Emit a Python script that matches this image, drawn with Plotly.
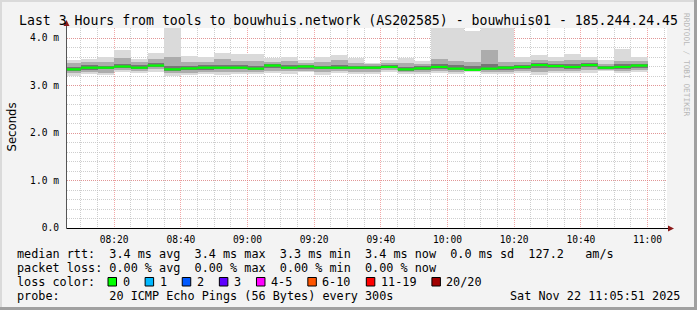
import plotly.graph_objects as go
import pandas as pd

# ---------------- data ----------------
# end of each 5-minute step (300 s), 08:10 .. 11:00
step_end = pd.date_range("2025-11-22 08:10:00", "2025-11-22 11:00:00", freq="5min")

median_ms = [3.34, 3.375, 3.375, 3.40, 3.375, 3.42, 3.34, 3.36, 3.375, 3.375,
             3.375, 3.355, 3.42, 3.375, 3.40, 3.375, 3.375, 3.375, 3.375, 3.39,
             3.34, 3.36, 3.39, 3.355, 3.33, 3.355, 3.375, 3.39, 3.43, 3.41,
             3.39, 3.43, 3.375, 3.39, 3.42]
ping_min = [3.20, 3.24, 3.22, 3.28, 3.27, 3.29, 3.21, 3.22, 3.24, 3.22,
            3.24, 3.24, 3.26, 3.25, 3.28, 3.22, 3.26, 3.24, 3.24, 3.29,
            3.24, 3.24, 3.26, 3.24, 3.28, 3.24, 3.24, 3.26, 3.22, 3.26,
            3.26, 3.27, 3.31, 3.27, 3.28]
ping_p10 = [3.27, 3.29, 3.27, 3.33, 3.31, 3.34, 3.26, 3.27, 3.29, 3.28,
            3.29, 3.28, 3.31, 3.30, 3.31, 3.28, 3.30, 3.29, 3.29, 3.32,
            3.28, 3.29, 3.30, 3.28, 3.30, 3.28, 3.28, 3.30, 3.29, 3.31,
            3.31, 3.32, 3.33, 3.31, 3.32]
ping_p30 = [3.31, 3.33, 3.34, 3.37, 3.35, 3.38, 3.30, 3.32, 3.33, 3.34,
            3.34, 3.32, 3.36, 3.34, 3.35, 3.34, 3.34, 3.34, 3.34, 3.36,
            3.31, 3.33, 3.35, 3.32, 3.32, 3.33, 3.33, 3.35, 3.37, 3.37,
            3.35, 3.38, 3.35, 3.35, 3.37]
ping_p70 = [3.40, 3.43, 3.42, 3.45, 3.43, 3.47, 3.42, 3.42, 3.43, 3.44,
            3.43, 3.42, 3.45, 3.44, 3.43, 3.42, 3.44, 3.42, 3.41, 3.43,
            3.40, 3.41, 3.45, 3.43, 3.42, 3.45, 3.42, 3.44, 3.47, 3.45,
            3.46, 3.47, 3.41, 3.45, 3.46]
ping_p90 = [3.47, 3.50, 3.50, 3.58, 3.50, 3.55, 3.60, 3.50, 3.50, 3.55,
            3.52, 3.52, 3.50, 3.52, 3.48, 3.50, 3.53, 3.48, 3.45, 3.48,
            3.47, 3.46, 3.55, 3.52, 3.50, 3.75, 3.50, 3.50, 3.53, 3.52,
            3.54, 3.53, 3.46, 3.52, 3.51]
ping_max = [3.54, 3.56, 3.59, 3.75, 3.56, 3.68, 4.25, 3.62, 3.60, 3.69,
            3.66, 3.66, 3.57, 3.60, 3.54, 3.59, 3.65, 3.57, 3.48, 3.54,
            3.57, 3.52, 4.30, 4.30, 4.15, 4.30, 4.30, 3.60, 3.64, 3.59,
            3.67, 3.61, 3.54, 3.77, 3.59]
loss_count = [0, 0, 0, 0, 0, 0, 0, 0, 0, 0, 0, 0, 0, 0, 0, 0, 0, 0, 0, 0,
              0, 0, 0, 0, 0, 0, 0, 0, 0, 0, 0, 0, 0, 0, 0]

y_tick_vals = [0, 1, 2, 3, 4]
y_tick_text = ["0.0", "1.0 m", "2.0 m", "3.0 m", "4.0 m"]

loss_labels = ["0", "1", "2", "3", "4-5", "6-10", "11-19", "20/20"]
loss_colors = ["#00ff00", "#00b8ff", "#0059ff", "#5e00ff", "#ff00fe",
               "#ff5500", "#ff0000", "#a10000"]

title_text = "Last 3 Hours from tools to bouwhuis.network (AS202585) - bouwhuis01 - 185.244.24.45"
line_rtt = "median rtt:  3.4 ms avg  3.4 ms max  3.3 ms min  3.4 ms now  0.0 ms sd  127.2   am/s"
line_loss = "packet loss: 0.00 % avg  0.00 % max  0.00 % min  0.00 % now"
line_probe = "probe:       20 ICMP Echo Pings (56 Bytes) every 300s"
stamp = "Sat Nov 22 11:05:51 2025"

x_start = "2025-11-22 08:05:51"
x_end = "2025-11-22 11:05:51"
y_top = 4.2105

# ---------------- geometry helpers ----------------
W, H = 697, 310
L, R, T, B = 67, 667, 28, 228


def pxx(x):
    return (x - L) / (R - L)


def pxy(y):
    return (B - y) / (B - T)


MONO = "DejaVu Sans Mono"
step = pd.Timedelta(seconds=300)
centers = [t - step / 2 for t in step_end]
starts = [t - step for t in step_end]

fig = go.Figure()

bands = [(ping_min, ping_max, "#dadada"),
         (ping_p10, ping_p90, "#acacac"),
         (ping_p30, ping_p70, "#767676")]
for lo, hi, col in bands:
    fig.add_trace(go.Bar(
        x=centers, y=[h - l for l, h in zip(lo, hi)], base=lo,
        width=300000, marker=dict(color=col, line=dict(width=0)),
        hoverinfo="skip", showlegend=False))


def loss_color(n):
    if n == 0:
        return loss_colors[0]
    if n <= 3:
        return loss_colors[n]
    if n <= 5:
        return loss_colors[4]
    if n <= 10:
        return loss_colors[5]
    if n <= 19:
        return loss_colors[6]
    return loss_colors[7]


for color in sorted(set(loss_color(n) for n in loss_count)):
    xs, ys = [], []
    for s, e, m, n in zip(starts, step_end, median_ms, loss_count):
        if loss_color(n) == color:
            xs += [s, e, None]
            ys += [m, m, None]
    fig.add_trace(go.Scatter(x=xs, y=ys, mode="lines",
                             line=dict(color=color, width=2.2),
                             hoverinfo="skip", showlegend=False))

minor_grid = "rgba(190,190,190,0.75)"
major_grid = "rgba(235,120,120,0.65)"

fig.update_layout(
    width=W, height=H, autosize=False,
    margin=dict(l=L, r=W - R, t=T, b=H - B, pad=0),
    paper_bgcolor="#f3f3f3", plot_bgcolor="#ffffff",
    barmode="overlay", bargap=0,
    showlegend=False,
    font=dict(family=MONO, color="#000000"),
    title=dict(text=title_text, x=0.5, xanchor="center", xref="container",
               y=1 - 20 / H, yanchor="middle", yref="container",
               font=dict(family=MONO, size=13.2, color="#000000")),
    xaxis=dict(type="date", range=[x_start, x_end], tickformat="%H:%M",
               tick0="2025-11-22 08:00:00", dtick=1200000,
               showgrid=True, gridcolor=major_grid, griddash="1px,1px", gridwidth=1,
               minor=dict(dtick=300000, showgrid=True, gridcolor=minor_grid,
                          griddash="1px,1px", gridwidth=1),
               ticks="", ticklabelstandoff=4, showline=False, zeroline=False,
               tickfont=dict(family=MONO, size=9.6, color="#000000")),
    yaxis=dict(range=[0, y_top], tickvals=y_tick_vals, ticktext=y_tick_text,
               showgrid=True, gridcolor=major_grid, griddash="1px,1px", gridwidth=1,
               minor=dict(dtick=0.2, showgrid=True, gridcolor=minor_grid,
                          griddash="1px,1px", gridwidth=1),
               ticks="", ticklabelstandoff=7, showline=False, zeroline=False,
               tickfont=dict(family=MONO, size=9.6, color="#000000")),
)

shapes = []
# image frame
shapes.append(dict(type="rect", xref="paper", yref="paper", x0=pxx(0), x1=pxx(W), y0=pxy(0), y1=pxy(2),
                   fillcolor="#dadada", line=dict(width=0), layer="above"))
shapes.append(dict(type="rect", xref="paper", yref="paper", x0=pxx(0), x1=pxx(2), y0=pxy(0), y1=pxy(H),
                   fillcolor="#dadada", line=dict(width=0), layer="above"))
shapes.append(dict(type="rect", xref="paper", yref="paper", x0=pxx(W - 3), x1=pxx(W), y0=pxy(0), y1=pxy(H),
                   fillcolor="#a0a0a0", line=dict(width=0), layer="above"))
shapes.append(dict(type="rect", xref="paper", yref="paper", x0=pxx(0), x1=pxx(W), y0=pxy(H - 3), y1=pxy(H),
                   fillcolor="#a0a0a0", line=dict(width=0), layer="above"))
# axes with arrows
shapes.append(dict(type="line", xref="paper", yref="paper", x0=pxx(66.5), x1=pxx(669), y0=pxy(228.5), y1=pxy(228.5),
                   line=dict(color="#000000", width=1), layer="above"))
shapes.append(dict(type="line", xref="paper", yref="paper", x0=pxx(66.5), x1=pxx(66.5), y0=pxy(228.5), y1=pxy(23),
                   line=dict(color="#555555", width=1), layer="above"))
shapes.append(dict(type="path", xref="paper", yref="paper",
                   path=f"M {pxx(668)} {pxy(225.5)} L {pxx(674)} {pxy(228.5)} L {pxx(668)} {pxy(231.5)} Z",
                   fillcolor="#8b1a1a", line=dict(width=0), layer="above"))
shapes.append(dict(type="path", xref="paper", yref="paper",
                   path=f"M {pxx(63.5)} {pxy(26)} L {pxx(66.5)} {pxy(20)} L {pxx(69.5)} {pxy(26)} Z",
                   fillcolor="#8b1a1a", line=dict(width=0), layer="above"))

annotations = []


def text_at(x, y, s, size=11.8, anchor="left", color="#000000", family=MONO, angle=0):
    annotations.append(dict(xref="paper", yref="paper", x=pxx(x), y=pxy(y),
                            text=s.replace(" ", "\u00a0"), showarrow=False,
                            xanchor=anchor, yanchor="middle", textangle=angle,
                            font=dict(family=family, size=size, color=color),
                            borderpad=0))


text_at(16, 254, line_rtt)
text_at(16, 268, line_loss)
text_at(16, 282, "loss color:")
text_at(16, 296, line_probe)
text_at(681, 296, stamp, anchor="right")

# loss colour legend boxes
cw = 7.12
bx = 108.0
for lab, col in zip(loss_labels, loss_colors):
    shapes.append(dict(type="rect", xref="paper", yref="paper",
                       x0=pxx(bx), x1=pxx(bx + 8.5), y0=pxy(277.5), y1=pxy(286),
                       fillcolor=col, line=dict(color="#000000", width=1), layer="above"))
    text_at(bx + 13.5, 282, lab)
    bx = bx + 13.5 + len(lab) * cw + 16.5

# y axis title
text_at(11, 127.5, "Seconds", size=11.7, anchor="center", family="DejaVu Sans", angle=-90)
# watermark
text_at(687, 65, "RRDTOOL / TOBI OETIKER", size=7.8, anchor="center", color="#b8b8b8", angle=90)

fig.update_layout(shapes=shapes, annotations=annotations)
fig.write_html("out.html")
